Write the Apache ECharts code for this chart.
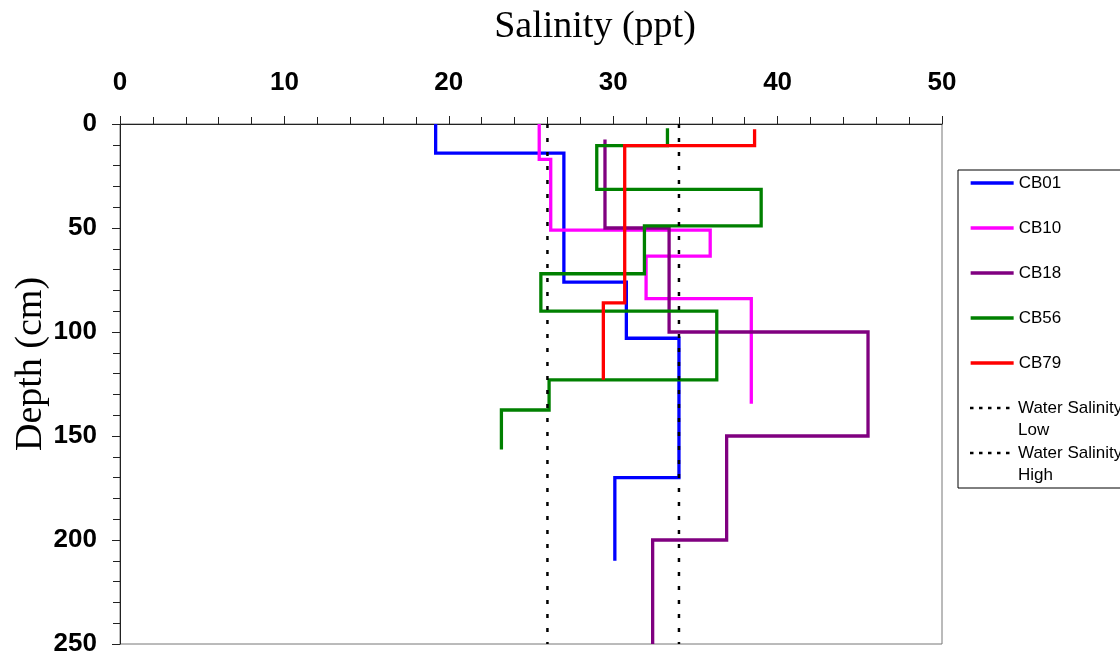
<!DOCTYPE html>
<html><head><meta charset="utf-8">
<script src="https://cdn.jsdelivr.net/npm/echarts@6/dist/echarts.min.js"></script>
<style>html,body{margin:0;padding:0;background:#fff}#c{width:1120px;height:658px}</style>
</head><body><div id="c"></div>
<script>
// ---- data (salinity in ppt per depth layer; depths in cm are layer boundaries) ----
const SERIES_NAMES = ['CB01', 'CB10', 'CB18', 'CB56', 'CB79'];
const CB01_DEPTH = [0, 14, 76, 103, 170, 210];
const CB01_SAL   = [19.2, 27.0, 30.8, 34.0, 30.1];
const CB10_DEPTH = [0, 17, 51, 63.5, 84, 134.5];
const CB10_SAL   = [25.5, 26.2, 35.9, 32.0, 38.4];
const CB18_DEPTH = [7.5, 50, 100, 150, 200, 250];
const CB18_SAL   = [29.5, 33.4, 45.5, 36.9, 32.4];
const CB56_DEPTH = [2, 10.4, 31.4, 49, 72, 90, 123, 137.5, 156.5];
const CB56_SAL   = [33.3, 29.0, 39.0, 31.9, 25.6, 36.3, 26.1, 23.2];
const CB79_DEPTH = [2.5, 10.4, 86, 123];
const CB79_SAL   = [38.6, 30.7, 29.4];
const WATER_NAMES = ['Water Salinity Low', 'Water Salinity High'];
const WATER_SAL = [26.0, 34.0];
const DEPTH_RANGE = [0, 250];
const X_TICKS = [0, 10, 20, 30, 40, 50];
const Y_TICKS = [0, 50, 100, 150, 200, 250];
const COLORS = ['#0000FF', '#FF00FF', '#800080', '#008000', '#FF0000'];

function profile(depths, sal) {
  const pts = [];
  for (let i = 0; i < sal.length; i++) {
    pts.push([sal[i], depths[i]]);
    pts.push([sal[i], depths[i + 1]]);
  }
  return pts;
}
const PROFILES = [
  profile(CB01_DEPTH, CB01_SAL),
  profile(CB10_DEPTH, CB10_SAL),
  profile(CB18_DEPTH, CB18_SAL),
  profile(CB56_DEPTH, CB56_SAL),
  profile(CB79_DEPTH, CB79_SAL)
];

const series = SERIES_NAMES.map((n, i) => ({
  name: n, type: 'line', data: PROFILES[i], symbol: 'none', showSymbol: false,
  color: COLORS[i],
  lineStyle: { color: COLORS[i], width: 3.3, cap: 'butt', join: 'miter' },
  z: 2 + i
}));
WATER_NAMES.forEach((n, i) => {
  series.push({
    name: n, type: 'line', symbol: 'none', showSymbol: false, color: '#000',
    data: DEPTH_RANGE.map(d => [WATER_SAL[i], d]),
    lineStyle: { color: '#000', width: 2.5, type: [4, 10], cap: 'butt' },
    z: 10
  });
});

// dotted legend key drawn in the upper part of a 43x44 item box
const DOT_ICON = 'path://M0,0Z M0,9.8h3.5v2.5h-3.5z M9,9.8h3.5v2.5h-3.5z M18,9.8h3.5v2.5h-3.5z M27,9.8h3.5v2.5h-3.5z M36,9.8h3.5v2.5h-3.5z M43,44Z';

const labelFont = { fontFamily: 'Liberation Sans', fontWeight: 'bold', fontSize: 26, color: '#000' };
const chart = echarts.init(document.getElementById('c'), null, { renderer: 'canvas' });
chart.setOption({
  animation: false,
  backgroundColor: '#fff',
  grid: { left: 120, right: 178, top: 124, bottom: 14, show: true, borderColor: '#777', borderWidth: 1,
          containLabel: false, outerBoundsMode: 'none' },
  xAxis: {
    type: 'value', position: 'top', min: X_TICKS[0], max: X_TICKS[X_TICKS.length - 1], interval: X_TICKS[1] - X_TICKS[0],
    name: 'Salinity (ppt)', nameLocation: 'middle', nameGap: 78, nameMoveOverlap: false,
    nameTextStyle: { fontFamily: 'Liberation Serif', fontSize: 38, color: '#000', padding: [0, 0, 0, 128] },
    axisLine: { show: true, lineStyle: { color: '#222', width: 1 } },
    axisTick: { show: true, length: 8, lineStyle: { color: '#222' } },
    minorTick: { show: true, splitNumber: 5, length: 7, lineStyle: { color: '#222' } },
    splitLine: { show: false },
    axisLabel: Object.assign({ margin: 28 }, labelFont)
  },
  yAxis: {
    type: 'value', inverse: true, min: Y_TICKS[0], max: Y_TICKS[Y_TICKS.length - 1], interval: Y_TICKS[1] - Y_TICKS[0],
    name: 'Depth (cm)', nameLocation: 'middle', nameGap: 70, nameMoveOverlap: false,
    nameTextStyle: { fontFamily: 'Liberation Serif', fontSize: 38, color: '#000', padding: [0, 0, 0, 40] },
    axisLine: { show: true, lineStyle: { color: '#222', width: 1 } },
    axisTick: { show: true, length: 8, lineStyle: { color: '#222' } },
    minorTick: { show: true, splitNumber: 5, length: 7, lineStyle: { color: '#222' } },
    splitLine: { show: false },
    axisLabel: Object.assign({ margin: 23 }, labelFont)
  },
  legend: [
    {
      orient: 'vertical', left: 958, top: 170, padding: [2, 130, 114, 11],
      borderColor: '#000', borderWidth: 1,
      itemWidth: 43, itemHeight: 14, itemGap: 23,
      data: SERIES_NAMES,
      itemStyle: { opacity: 0 },
      lineStyle: { width: 3.3 },
      textStyle: { fontFamily: 'Liberation Sans', fontSize: 17, color: '#000', lineHeight: 22 }
    },
    {
      orient: 'vertical', left: 970, top: 397, padding: 0,
      itemWidth: 43, itemHeight: 44, itemGap: 1, symbolKeepAspect: false,
      data: WATER_NAMES.map(n => ({ name: n, icon: DOT_ICON })),
      formatter: n => n.replace('Water Salinity ', 'Water Salinity\n'),
      textStyle: { fontFamily: 'Liberation Sans', fontSize: 17, color: '#000', lineHeight: 22 }
    }
  ],
  series: series
});
</script></body></html>
